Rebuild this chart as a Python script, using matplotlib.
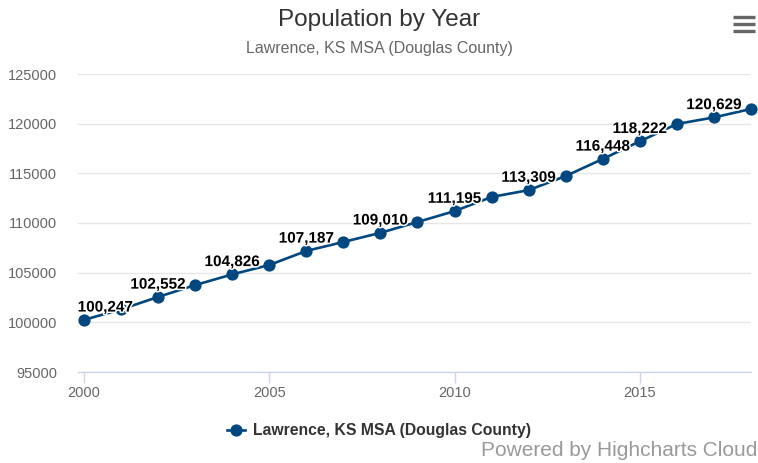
import matplotlib
matplotlib.use("Agg")
import matplotlib.pyplot as plt
from matplotlib.lines import Line2D
import matplotlib.patheffects as pe

plt.rcParams['font.family'] = ['Liberation Sans', 'DejaVu Sans']

years = list(range(2000, 2019))
population = [100247, 101300, 102552, 103750, 104826, 105770, 107187, 108090,
              109010, 110100, 111195, 112620, 113309, 114730, 116448, 118222,
              119970, 120629, 121480]
labeled_years = [2000, 2002, 2004, 2006, 2008, 2010, 2012, 2014, 2015, 2017]
y_ticks = [95000, 100000, 105000, 110000, 115000, 120000, 125000]
x_ticks = [2000, 2005, 2010, 2015]

title = "Population by Year"
subtitle = "Lawrence, KS MSA (Douglas County)"
series_name = "Lawrence, KS MSA (Douglas County)"
credits = "Powered by Highcharts Cloud"

W, H = 758, 463
fig = plt.figure(figsize=(W / 100, H / 100), dpi=100)
left, right, top, bottom = 78, 751, 74, 372
ax = fig.add_axes([left / W, 1 - bottom / H, (right - left) / W, (bottom - top) / H])

color = '#00477f'
ax.plot(years, population, color=color, lw=1.9, marker='o', ms=7.8,
        clip_on=False, zorder=3)

ax.set_ylim(95000, 125000)
ax.set_xlim(1999.84, 2018.0)
ax.set_yticks(y_ticks)
ax.set_yticklabels([str(v) for v in y_ticks])
ax.set_xticks(x_ticks)
ax.set_xticklabels([str(v) for v in x_ticks])
ax.grid(axis='y', color='#e6e6e6', lw=1)
ax.set_axisbelow(True)
for s in ['top', 'right', 'left']:
    ax.spines[s].set_visible(False)
ax.spines['bottom'].set_color('#ccd6eb')
ax.spines['bottom'].set_linewidth(1)
ax.tick_params(axis='y', length=0, pad=15, labelsize=10.5, labelcolor='#666666')
ax.tick_params(axis='x', length=8, width=1, color='#ccd6eb', pad=2,
               labelsize=10.5, labelcolor='#666666')

outline = [pe.withStroke(linewidth=2.2, foreground='white')]
for yr, val in zip(years, population):
    if yr in labeled_years:
        if yr == years[0]:
            ax.annotate(f"{val:,}", (yr, val), xytext=(-4.5, 6), textcoords='offset points',
                        ha='left', va='baseline', fontsize=11, fontweight='bold',
                        color='black', path_effects=outline, zorder=4)
        else:
            ax.annotate(f"{val:,}", (yr, val), xytext=(0, 6), textcoords='offset points',
                        ha='center', va='baseline', fontsize=11, fontweight='bold',
                        color='black', path_effects=outline, zorder=4)

fig.text(0.5, 1 - 20 / H, title, ha='center', va='center', fontsize=17.5, color='#333333')
fig.text(0.5, 1 - 48 / H, subtitle, ha='center', va='center', fontsize=11.5, color='#666666')

handle = Line2D([], [], color=color, lw=1.9, marker='o', ms=7.8)
leg = fig.legend([handle], [series_name], loc='center', bbox_to_anchor=(0.5, 1 - 431 / H),
                 frameon=False, handlelength=1.1, handletextpad=0.5,
                 prop={'weight': 'bold', 'size': 11.3})
for t in leg.get_texts():
    t.set_color('#333333')

fig.text(757 / W, 1 - 450 / H, credits, ha='right', va='center', fontsize=15.0, color='#999999')

for yy in [17, 24, 31]:
    fig.add_artist(Line2D([733 / W, 755 / W], [1 - yy / H, 1 - yy / H],
                          color='#666666', lw=2.4, solid_capstyle='butt'))

fig.savefig('out.png', dpi=100)
